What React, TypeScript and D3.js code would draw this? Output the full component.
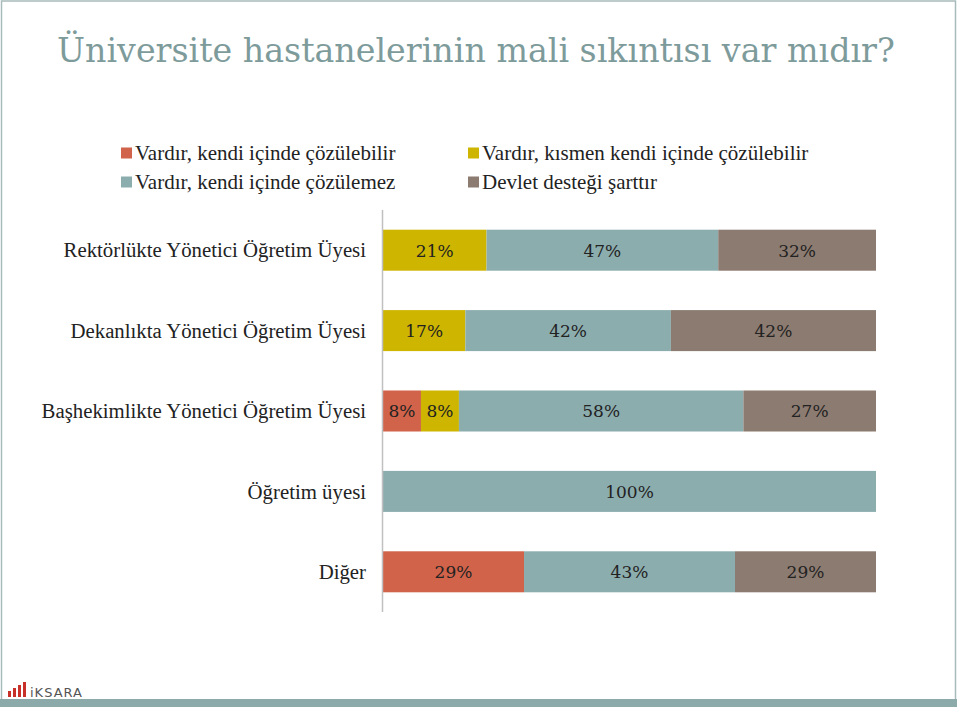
import React, { useLayoutEffect, useRef, useState } from "react";
import * as d3 from "d3";

const title = "Üniversite hastanelerinin mali sıkıntısı var mıdır?";
const categories = [
  "Rektörlükte Yönetici Öğretim Üyesi",
  "Dekanlıkta Yönetici Öğretim Üyesi",
  "Başhekimlikte Yönetici Öğretim Üyesi",
  "Öğretim üyesi",
  "Diğer",
];
const seriesNames = [
  "Vardır, kendi içinde çözülebilir",
  "Vardır, kısmen kendi içinde çözülebilir",
  "Vardır, kendi içinde çözülemez",
  "Devlet desteği şarttır",
];
const seriesColors = ["#D1634A", "#CDB500", "#8CADAE", "#8C7B70"];
const s1 = [0, 0, 7.7, 0, 28.6];
const s2 = [21, 16.7, 7.7, 0, 0];
const s3 = [47, 41.7, 57.7, 100, 42.8];
const s4 = [32, 41.6, 26.9, 0, 28.6];
const seriesValues = [s1, s2, s3, s4];
const legendOrder = [0, 1, 2, 3];

const W = 960;
const H = 712;
const SERIF = "'Liberation Serif', 'Times New Roman', serif";
const GEORGIA = "'DejaVu Serif', Georgia, serif";

export default function App() {
  const titleRef = useRef<SVGTextElement>(null);
  const [titleSize, setTitleSize] = useState(36);
  useLayoutEffect(() => {
    const el = titleRef.current;
    if (!el) return;
    const w = el.getComputedTextLength();
    const target = 838;
    if (w > 0 && Math.abs(w - target) > 2) {
      setTitleSize((s) => (s * target) / w);
    }
  }, [titleSize]);

  const x = d3.scaleLinear().domain([0, 100]).range([383, 876]);
  const y = d3
    .scaleBand<string>()
    .domain(categories)
    .range([210, 612])
    .paddingInner(0.49)
    .paddingOuter(0.245);
  const fmt = (v: number) => d3.format(".0f")(v) + "%";

  const rows = categories.map((c, i) => {
    let acc = 0;
    const segs = seriesValues.map((vals, si) => {
      const v = vals[i];
      const seg = { si, v, x0: acc, x1: acc + v };
      acc += v;
      return seg;
    });
    return { c, segs };
  });

  const legendPos = [
    { x: 121, y: 153 },
    { x: 468, y: 153 },
    { x: 121, y: 182 },
    { x: 468, y: 182 },
  ];

  return (
    <svg
      width={W}
      height={H}
      style={{ position: "absolute", left: 0, top: 0, background: "#fff" }}
    >
      {/* frame */}
      <rect x={1.5} y={1} width={954} height={699} fill="none" stroke="#A9BABB" strokeWidth={1.5} />
      <rect x={0} y={699} width={957} height={8} fill="#8DAAAB" />

      {/* title */}
      <text
        ref={titleRef}
        x={57}
        y={62}
        fontFamily={GEORGIA}
        fontSize={titleSize}
        fill="#7E9B9B"
      >
        {title}
      </text>

      {/* legend */}
      {legendOrder.map((si, k) => (
        <g key={si} transform={`translate(${legendPos[k].x},${legendPos[k].y})`}>
          <rect x={0} y={-5.5} width={11} height={11} fill={seriesColors[si]} />
          <text
            x={14}
            y={0}
            dy="0.35em"
            fontFamily={SERIF}
            fontSize={21}
            fill="#222"
          >
            {seriesNames[si]}
          </text>
        </g>
      ))}

      {/* bars */}
      {rows.map((r) => {
        const y0 = y(r.c)!;
        const bw = y.bandwidth();
        return (
          <g key={r.c}>
            <text
              x={366}
              y={y0 + bw / 2}
              dy="0.35em"
              textAnchor="end"
              fontFamily={SERIF}
              fontSize={20.8}
              fill="#222"
            >
              {r.c}
            </text>
            {r.segs
              .filter((s) => s.v > 0)
              .map((s) => (
                <g key={s.si}>
                  <rect
                    x={x(s.x0)}
                    y={y0}
                    width={x(s.x1) - x(s.x0)}
                    height={bw}
                    fill={seriesColors[s.si]}
                  />
                  <text
                    x={(x(s.x0) + x(s.x1)) / 2}
                    y={y0 + bw / 2}
                    dy="0.38em"
                    textAnchor="middle"
                    fontFamily={GEORGIA}
                    fontSize={17}
                    fill="#222"
                  >
                    {fmt(s.v)}
                  </text>
                </g>
              ))}
          </g>
        );
      })}

      {/* axis line */}
      <line x1={382.5} x2={382.5} y1={210} y2={612} stroke="#C0C0C0" strokeWidth={1.5} />

      {/* logo */}
      <g>
        {[6, 9, 12, 15].map((h, i) => (
          <rect key={i} x={8 + i * 5} y={697 - h} width={3} height={h} fill="#C8302A" />
        ))}
        <text x={30} y={697} fontFamily="'DejaVu Sans', sans-serif" fontSize={13} fill="#555" letterSpacing={1}>
          iKSARA
        </text>
      </g>
    </svg>
  );
}
